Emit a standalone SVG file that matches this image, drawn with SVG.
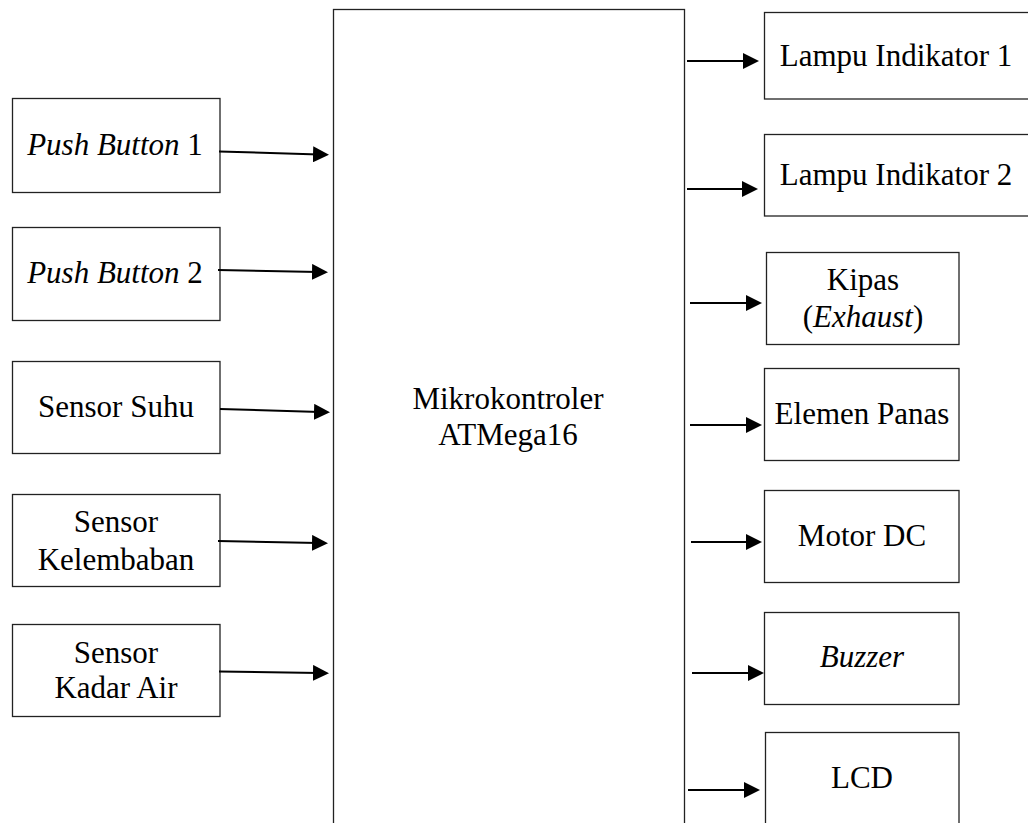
<svg xmlns="http://www.w3.org/2000/svg" width="1028" height="823" viewBox="0 0 1028 823">
<style>
.box{fill:#fff;stroke:#222;stroke-width:1.3}
text{font-family:'Liberation Serif','Times New Roman',serif;font-size:31px;fill:#000;text-anchor:middle}
.i{font-style:italic}
.c{stroke:#000;stroke-width:2;fill:none;marker-end:url(#ah)}
</style>
<defs>
<marker id="ah" markerUnits="userSpaceOnUse" markerWidth="16" markerHeight="16" viewBox="0 0 16 16" refX="6" refY="8" orient="auto">
<path d="M0,0 L16,8 L0,16 z" fill="#000"/>
</marker>
</defs>
<rect width="1028" height="823" fill="#fff"/>
<g id="mcu">
<rect class="box" x="333.5" y="9.5" width="351" height="830"/>
<text x="508" y="409">Mikrokontroler</text>
<text x="508" y="445">ATMega16</text>
</g>
<g id="pb1"><rect class="box" x="12.5" y="98.5" width="207.5" height="94"/><text x="115" y="155"><tspan class="i">Push Button</tspan> 1</text></g>
<g id="pb2"><rect class="box" x="12.5" y="227.5" width="207.5" height="93"/><text x="115" y="283"><tspan class="i">Push Button</tspan> 2</text></g>
<g id="suhu"><rect class="box" x="12.5" y="361.5" width="207.5" height="92"/><text x="116" y="417">Sensor Suhu</text></g>
<g id="lembab"><rect class="box" x="12.5" y="494.5" width="207.5" height="92"/><text x="116" y="532">Sensor</text><text x="116" y="570">Kelembaban</text></g>
<g id="kadar"><rect class="box" x="12.5" y="624.5" width="207.5" height="92"/><text x="116" y="663">Sensor</text><text x="116" y="698">Kadar Air</text></g>
<g id="lampu1"><rect class="box" x="764.5" y="12.5" width="270" height="86.5"/><text x="896" y="66">Lampu Indikator 1</text></g>
<g id="lampu2"><rect class="box" x="764.5" y="134.5" width="270" height="81.5"/><text x="896" y="185">Lampu Indikator 2</text></g>
<g id="kipas"><rect class="box" x="766.5" y="252.5" width="192.5" height="92"/><text x="863" y="290">Kipas</text><text x="863" y="327">(<tspan class="i">Exhaust</tspan>)</text></g>
<g id="elemen"><rect class="box" x="764.5" y="368.5" width="194.5" height="92"/><text x="862" y="424">Elemen Panas</text></g>
<g id="motor"><rect class="box" x="764.5" y="490.5" width="194.5" height="92"/><text x="862" y="546">Motor DC</text></g>
<g id="buzzer"><rect class="box" x="764.5" y="612.5" width="194.5" height="92"/><text class="i" x="862" y="667">Buzzer</text></g>
<g id="lcd"><rect class="box" x="765.5" y="732.5" width="193.5" height="110"/><text x="862" y="788">LCD</text></g>
<g id="connectors">
<line class="c" x1="219" y1="151.5" x2="319" y2="154.5"/>
<line class="c" x1="218" y1="270" x2="318" y2="272"/>
<line class="c" x1="220" y1="409" x2="320" y2="412"/>
<line class="c" x1="218" y1="541" x2="318" y2="543"/>
<line class="c" x1="219" y1="671.5" x2="319" y2="673"/>
<line class="c" x1="687" y1="61" x2="749" y2="61"/>
<line class="c" x1="687" y1="189" x2="748" y2="189"/>
<line class="c" x1="690" y1="303" x2="752" y2="303"/>
<line class="c" x1="690" y1="425" x2="752" y2="425"/>
<line class="c" x1="691" y1="542" x2="752" y2="542"/>
<line class="c" x1="692" y1="673" x2="754" y2="673"/>
<line class="c" x1="688" y1="790" x2="750" y2="790"/>
</g>
</svg>
